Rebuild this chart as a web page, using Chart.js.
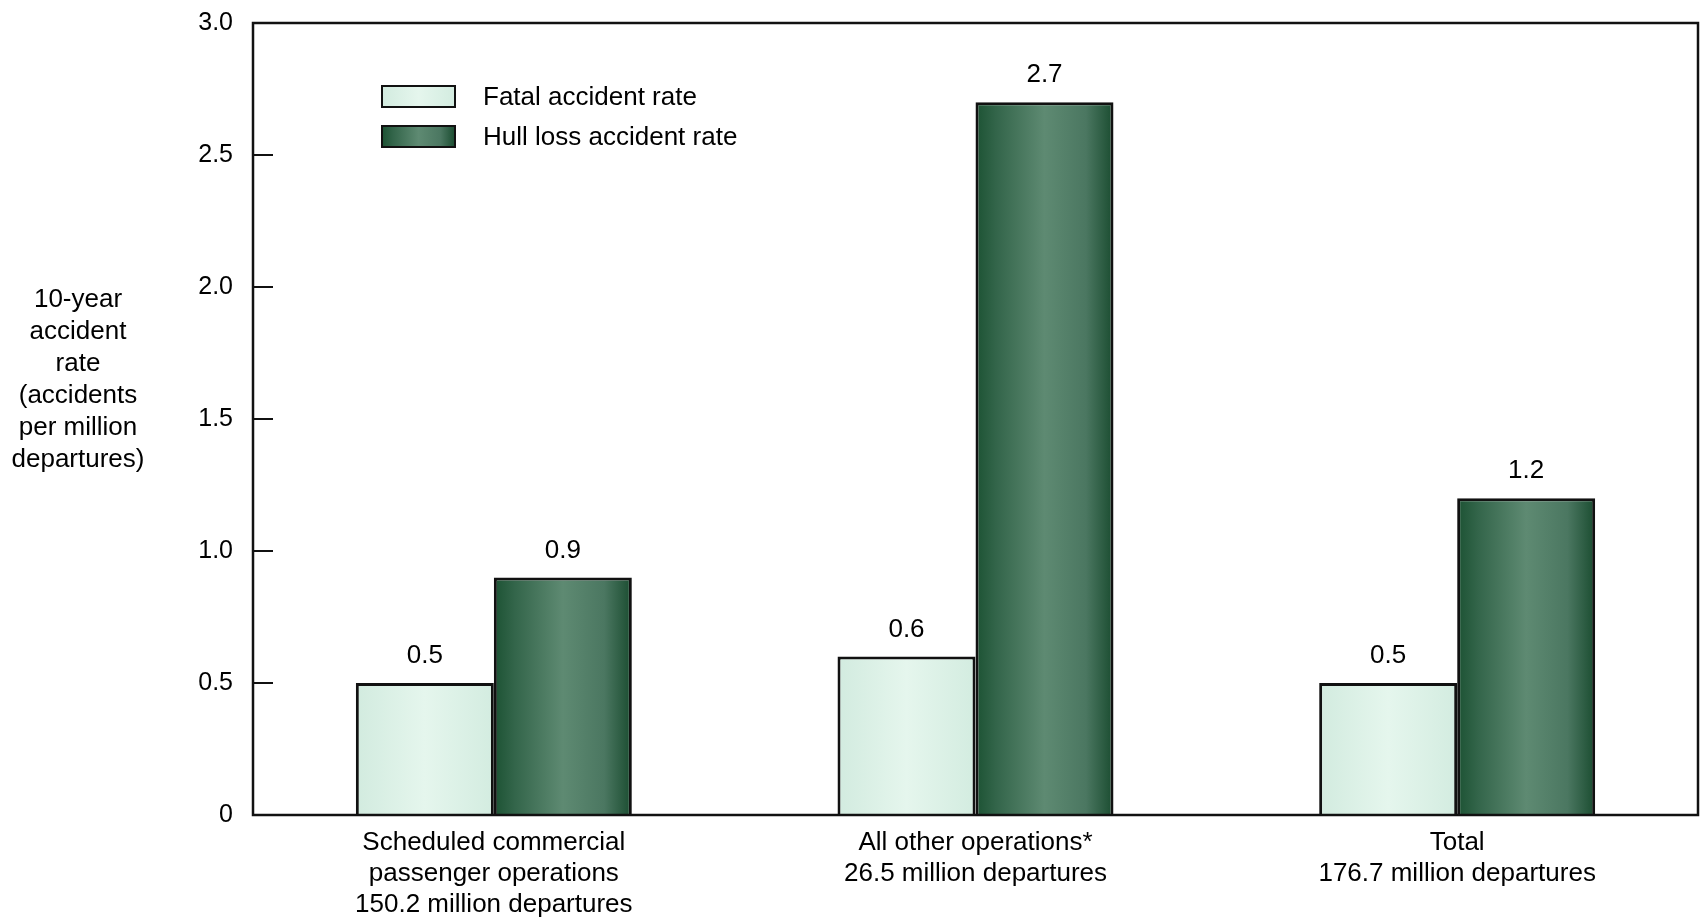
<!DOCTYPE html>
<html>
<head>
<meta charset="utf-8">
<title>10-year accident rates</title>
<script src="https://cdn.jsdelivr.net/npm/chart.js@4.4.1/dist/chart.umd.min.js"></script>
<style>
  html, body { margin: 0; padding: 0; background: #fff; }
  #wrap { width: 1700px; height: 920px; }
</style>
</head>
<body>
<div id="wrap"><canvas id="rateChart" width="1700" height="920"></canvas></div>
<script>
const categories = [
    ['Scheduled commercial', 'passenger operations', '150.2 million departures'],
    ['All other operations*', '26.5 million departures'],
    ['Total', '176.7 million departures']
];
const fatalRate = [0.5, 0.6, 0.5];
const hullLossRate = [0.9, 2.7, 1.2];
const yTicks = [0, 0.5, 1.0, 1.5, 2.0, 2.5, 3.0];
const seriesNames = ['Fatal accident rate', 'Hull loss accident rate'];
const yTitle = ['10-year', 'accident', 'rate', '(accidents', 'per million', 'departures)'];

const FONT = '"Liberation Sans", Arial, Helvetica, sans-serif';
const CAT_PCT = 0.573;

// colour stops across a bar, left edge to right edge
const lightStops = [[0, '#d2ebdf'], [0.5, '#e5f6ed'], [1, '#d3ece0']];
const darkStops = [[0, '#1c5233'], [0.15, '#33654a'], [0.5, '#5e8a72'], [0.8, '#4b7761'], [1, '#1a4c30']];

const hGradient = (ctx, x0, x1, stops) => {
    const g = ctx.createLinearGradient(x0, 0, x1, 0);
    stops.forEach(([o, c]) => g.addColorStop(o, c));
    return g;
};

// side 0 = left bar of the pair, 1 = right bar
const barFill = (stops, side) => (c) => {
    const chart = c.chart;
    const xs = chart.scales.x;
    if (!chart.chartArea || !xs || c.dataIndex === undefined) return stops[1][1];
    const center = xs.getPixelForValue(c.dataIndex);
    const w = xs.width / categories.length * CAT_PCT / 2;
    const x0 = side === 0 ? center - w : center;
    return hGradient(chart.ctx, x0, x0 + w, stops);
};

const decorations = {
    id: 'decorations',
    afterDatasetsDraw(chart) {
        const { ctx, chartArea: a, scales: { y } } = chart;
        ctx.save();
        ctx.fillStyle = '#000';

        // values above bars
        ctx.font = `26px ${FONT}`;
        ctx.textAlign = 'center';
        ctx.textBaseline = 'middle';
        chart.data.datasets.forEach((ds, i) => {
            chart.getDatasetMeta(i).data.forEach((bar, j) => {
                ctx.fillText(ds.data[j].toFixed(1), bar.x, bar.y - 27);
            });
        });

        // frame round the plot
        ctx.strokeStyle = '#111';
        ctx.lineWidth = 2.5;
        ctx.strokeRect(a.left, a.top, a.width, a.height);

        // inward tick marks
        ctx.lineWidth = 2;
        ctx.beginPath();
        yTicks.slice(1, -1).forEach(v => {
            const py = Math.round(y.getPixelForValue(v));
            ctx.moveTo(a.left, py);
            ctx.lineTo(a.left + 20, py);
        });
        ctx.stroke();

        // y axis title, stacked horizontally
        yTitle.forEach((t, k) => ctx.fillText(t, 78, 300 + k * 32));

        // legend
        const fills = [lightStops, darkStops];
        ctx.textAlign = 'left';
        seriesNames.forEach((name, k) => {
            const bx = a.left + 129, by = a.top + 63 + k * 40, bw = 73, bh = 21;
            ctx.fillStyle = hGradient(ctx, bx, bx + bw, fills[k]);
            ctx.fillRect(bx, by, bw, bh);
            ctx.strokeStyle = '#111';
            ctx.lineWidth = 2;
            ctx.strokeRect(bx, by, bw, bh);
            ctx.fillStyle = '#000';
            ctx.fillText(name, bx + 101, by + bh / 2 + 1);
        });
        ctx.restore();
    }
};

new Chart(document.getElementById('rateChart'), {
    type: 'bar',
    data: {
        labels: categories,
        datasets: [
            {
                label: seriesNames[0],
                data: fatalRate,
                backgroundColor: barFill(lightStops, 0),
                borderColor: '#111',
                borderWidth: 3,
                barPercentage: 1,
                categoryPercentage: CAT_PCT
            },
            {
                label: seriesNames[1],
                data: hullLossRate,
                backgroundColor: barFill(darkStops, 1),
                borderColor: '#111',
                borderWidth: 3,
                barPercentage: 1,
                categoryPercentage: CAT_PCT
            }
        ]
    },
    options: {
        responsive: false,
        animation: false,
        devicePixelRatio: 1,
        layout: { padding: { top: 23, right: 2, bottom: 0, left: 0 } },
        plugins: {
            legend: { display: false },
            tooltip: { enabled: false }
        },
        scales: {
            x: {
                grid: { display: false, drawTicks: false },
                border: { display: false },
                ticks: {
                    color: '#000',
                    font: { family: FONT, size: 26, lineHeight: 1.2 },
                    padding: 12,
                    maxRotation: 0,
                    autoSkip: false
                },
                afterFit: s => { s.height = 105; }
            },
            y: {
                min: 0,
                max: 3,
                grid: { display: false, drawTicks: false },
                border: { display: false },
                ticks: {
                    stepSize: 0.5,
                    color: '#000',
                    font: { family: FONT, size: 25 },
                    padding: 20,
                    callback: v => v === 0 ? '0' : v.toFixed(1)
                },
                // fixed width; the tick padding should not push the plot down
                afterFit: s => {
                    s.width = 253;
                    s.paddingTop = 12;
                    s.paddingBottom = 0;
                }
            }
        }
    },
    plugins: [decorations]
});
</script>
</body>
</html>
